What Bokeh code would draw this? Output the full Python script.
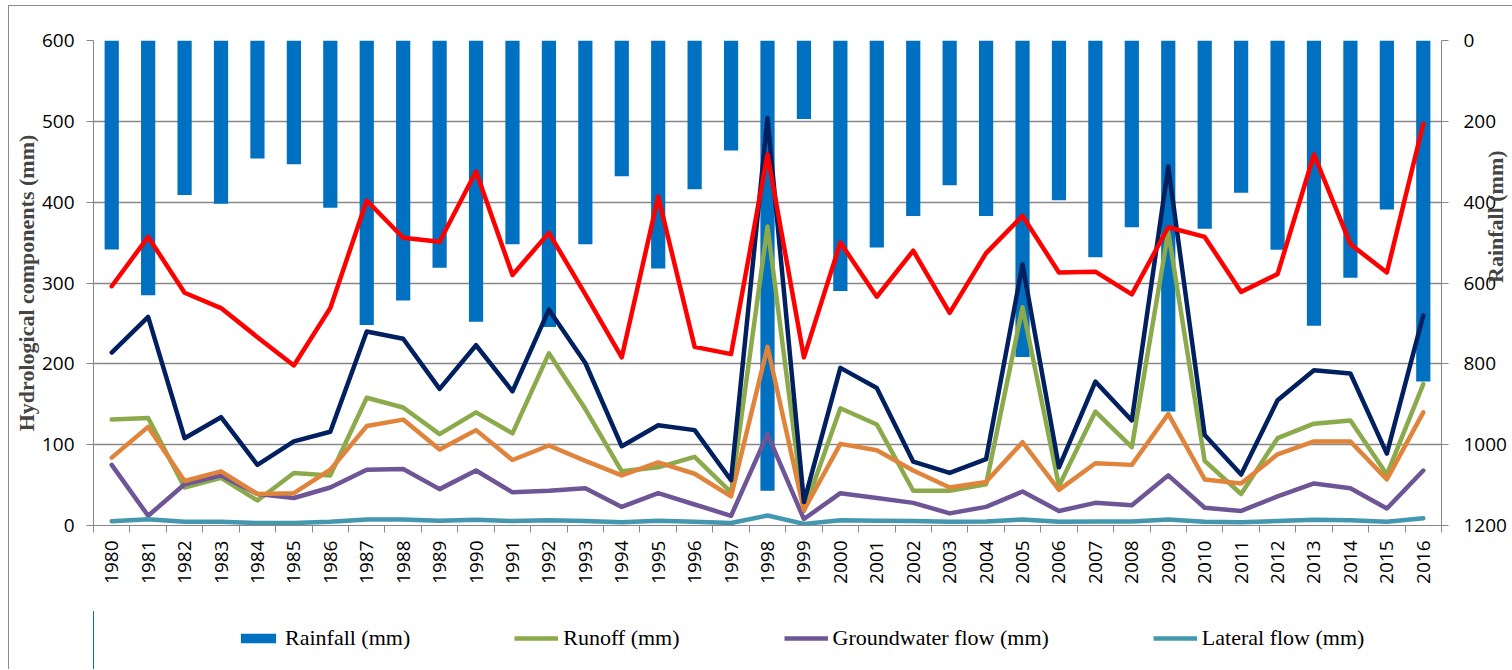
import math

from bokeh.plotting import figure
from bokeh.layouts import column
from bokeh.models import (Range1d, LinearAxis, FixedTicker, Legend, LegendItem,
                          ColumnDataSource)
from bokeh.embed import file_html
from bokeh.resources import INLINE

# ---- data (mm) ----
years = list(range(1980, 2017))

rainfall = [517, 630, 382, 404, 292, 306, 414, 704, 643, 562, 696, 504, 709, 504,
            336, 564, 368, 272, 1114, 194, 620, 512, 434, 358, 434, 783, 395, 536,
            462, 918, 466, 377, 518, 706, 587, 418, 844]

evapotranspiration = [296, 357, 288, 269, 233, 198, 269, 402, 356, 351, 438, 310, 362,
                      286, 208, 407, 221, 212, 459, 208, 350, 283, 340, 263, 337, 383,
                      313, 314, 286, 369, 357, 289, 311, 459, 348, 313, 497]

water_yield = [214, 258, 108, 134, 75, 104, 116, 240, 231, 169, 223, 166, 267, 201,
               98, 124, 118, 56, 504, 29, 195, 170, 79, 65, 82, 323, 72, 178, 130,
               444, 112, 63, 155, 192, 188, 89, 260]

runoff = [131, 133, 47, 59, 31, 65, 62, 158, 146, 113, 140, 114, 213, 144, 67, 72,
          85, 41, 370, 18, 145, 125, 43, 43, 51, 270, 49, 141, 97, 363, 80, 39, 108,
          126, 130, 63, 175]

percolation = [84, 122, 55, 67, 39, 40, 69, 123, 131, 94, 118, 81, 99, 80, 62, 78,
               64, 36, 221, 19, 101, 93, 68, 47, 54, 103, 44, 77, 75, 138, 57, 52, 88,
               104, 104, 57, 140]

groundwater = [75, 12, 51, 62, 39, 34, 47, 69, 70, 45, 68, 41, 43, 46, 23, 40, 26, 12,
               113, 8, 40, 34, 28, 15, 23, 42, 18, 28, 25, 62, 22, 18, 36, 52, 46, 21, 68]

lateral = [5.3, 7.8, 4.5, 4.5, 3, 3, 4.5, 7.5, 7.5, 6, 7, 5.5, 6.5, 5.5, 4, 6, 4.5, 3,
           12.4, 2, 6.5, 6, 5.5, 4.5, 5, 7.5, 4.5, 5, 5, 7.5, 4.5, 4, 5.5, 7, 6.5, 4.5, 9]

left_ticks = [0, 100, 200, 300, 400, 500, 600]
right_ticks = [0, 200, 400, 600, 800, 1000, 1200]

legend_labels = ["Rainfall (mm)", "Runoff (mm)", "Groundwater flow (mm)",
                 "Lateral flow (mm)"]

idx = list(range(len(years)))
src = ColumnDataSource(dict(idx=idx, rain=rainfall, et=evapotranspiration,
                            wy=water_yield, runoff=runoff, perc=percolation,
                            gw=groundwater, lat=lateral))

GRID = "#878787"
EDGE = "1px solid #8c8c8c"
TICK_FONT = "Open Sans"
SERIF = "Liberation Serif"
C_RAIN, C_RUNOFF, C_GW, C_LAT = "#0070C0", "#8BAA4B", "#6E5596", "#4398AF"
LW = 4.5
BORDER_L, BORDER_R = 84, 92
WIDTH = BORDER_L + 1348 + BORDER_R

p = figure(width=WIDTH, height=606, output_backend="svg", toolbar_location=None,
           x_range=Range1d(-0.5, len(years) - 0.5), y_range=Range1d(0, 600),
           min_border_left=BORDER_L, min_border_right=BORDER_R, min_border_top=34,
           min_border_bottom=87)
p.outline_line_color = None
p.background_fill_color = "white"
p.border_fill_color = "white"
p.styles = {"border-left": EDGE, "border-top": EDGE}

p.extra_y_ranges = {"rain": Range1d(start=1200, end=0)}

# rainfall bars hanging from the top (inverted secondary scale)
p.vbar(x="idx", top=0, bottom="rain", width=0.39, source=src,
       y_range_name="rain", fill_color=C_RAIN, line_color=None)

line_kw = dict(source=src, line_width=LW, line_join="round", line_cap="round")
p.line("idx", "runoff", line_color=C_RUNOFF, **line_kw)
p.line("idx", "gw", line_color=C_GW, **line_kw)
p.line("idx", "lat", line_color=C_LAT, **line_kw)
p.line("idx", "perc", line_color="#E0843C", **line_kw)
p.line("idx", "wy", line_color="#002060", **line_kw)
p.line("idx", "et", line_color="#FF0000", **line_kw)

# axes
p.xgrid.visible = False
p.ygrid.ticker = FixedTicker(ticks=left_ticks)
p.ygrid.grid_line_color = GRID
p.ygrid.grid_line_width = 1.3

xa = p.xaxis[0]
xa.ticker = FixedTicker(ticks=idx, minor_ticks=[i - 0.5 for i in range(len(years) + 1)])
xa.major_label_overrides = {i: str(y) for i, y in zip(idx, years)}
xa.major_label_orientation = math.pi / 2
xa.major_tick_line_color = None
xa.minor_tick_line_color = GRID
xa.minor_tick_out = 7
xa.minor_tick_in = 0
xa.axis_line_color = GRID
xa.major_label_standoff = 8
xa.major_label_text_font = TICK_FONT
xa.major_label_text_font_size = "19px"
xa.major_label_text_color = "black"

ya = p.yaxis[0]
ya.ticker = FixedTicker(ticks=left_ticks)
ya.axis_line_color = GRID
ya.major_tick_line_color = GRID
ya.major_tick_out = 7
ya.major_tick_in = 0
ya.minor_tick_line_color = None
ya.major_label_standoff = 12
ya.major_label_text_font = TICK_FONT
ya.major_label_text_font_size = "19px"
ya.major_label_text_color = "black"
ya.axis_label = "Hydrological components (mm)"
ya.axis_label_text_font = SERIF
ya.axis_label_text_font_style = "bold"
ya.axis_label_text_font_size = "22px"
ya.axis_label_standoff = 0

ra = LinearAxis(y_range_name="rain", ticker=FixedTicker(ticks=right_ticks))
ra.axis_line_color = GRID
ra.major_tick_line_color = GRID
ra.major_tick_out = 7
ra.major_tick_in = 0
ra.minor_tick_line_color = None
ra.major_label_standoff = 15
ra.major_label_text_font = TICK_FONT
ra.major_label_text_font_size = "19px"
ra.major_label_text_color = "black"
ra.axis_label = "Rainfall (mm)"
ra.axis_label_orientation = math.pi / 2
ra.axis_label_text_align = "center"
ra.axis_label_text_font = SERIF
ra.axis_label_text_font_style = "bold"
ra.axis_label_text_font_size = "22px"
ra.axis_label_standoff = -14
p.add_layout(ra, "right")

# legend strip underneath the chart; its renderers sit outside the visible range
lf = figure(width=WIDTH, height=58, output_backend="svg", toolbar_location=None,
            x_axis_type=None, y_axis_type=None, x_range=Range1d(1000, 1001),
            y_range=Range1d(0, 1), min_border_left=BORDER_L,
            min_border_right=BORDER_R, min_border_top=0, min_border_bottom=0)
lf.outline_line_color = None
lf.background_fill_color = "white"
lf.border_fill_color = "white"
lf.styles = {"border-left": EDGE}
lf.grid.visible = False

# keep the strip at the page edge instead of snapping its frame to the chart's
for fig in (p, lf):
    if "frame_align" in type(fig).properties():
        fig.frame_align = False

k_rain = lf.vbar(x="idx", top="rain", width=0.39, source=src, fill_color=C_RAIN,
                 line_color=None)
k_runoff = lf.line("idx", "runoff", source=src, line_color=C_RUNOFF, line_width=LW)
k_gw = lf.line("idx", "gw", source=src, line_color=C_GW, line_width=LW)
k_lat = lf.line("idx", "lat", source=src, line_color=C_LAT, line_width=LW)

legend = Legend(items=[LegendItem(label=lab, renderers=[r]) for lab, r in
                       zip(legend_labels, [k_rain, k_runoff, k_gw, k_lat])],
                location=(143, 18), orientation="horizontal", padding=0, margin=0,
                spacing=104, border_line_color=None, background_fill_alpha=0,
                label_text_font=SERIF, label_text_font_size="22px",
                label_text_color="black", glyph_width=44, glyph_height=12,
                label_standoff=5)
lf.add_layout(legend)

layout = column(p, lf, spacing=0)
layout.margin = (5, 0, 0, 8)

open("out.html", "w").write(file_html(layout, INLINE))
